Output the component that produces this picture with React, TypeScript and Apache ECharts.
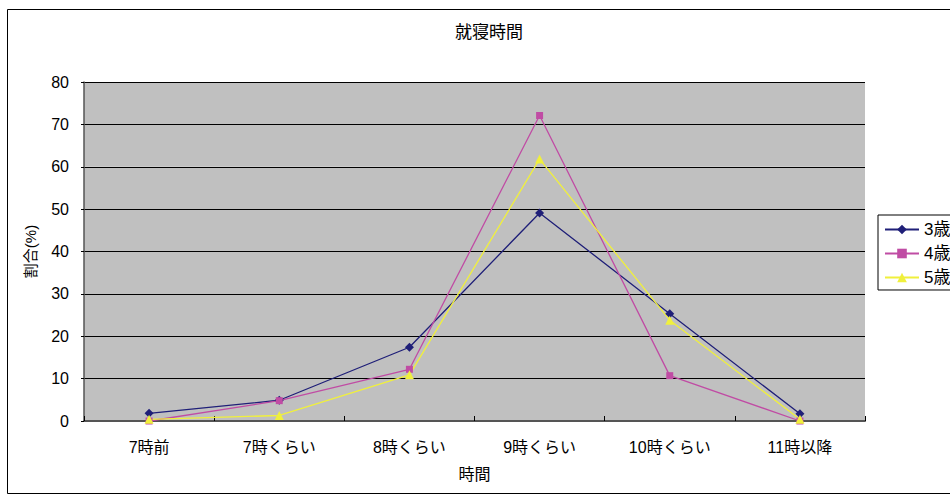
import React, { useEffect, useRef } from "react";
import * as echarts from "echarts";

const categories = ["7時前", "7時くらい", "8時くらい", "9時くらい", "10時くらい", "11時以降"];
const age3 = [1.8, 4.9, 17.4, 49.1, 25.3, 1.7];
const age4 = [0, 4.8, 12.2, 72.1, 10.7, 0];
const age5 = [0.4, 1.3, 10.9, 61.8, 23.8, 0.4];
const seriesNames = ["3歳", "4歳", "5歳"];

const FONT = "'Liberation Sans', 'Noto Sans CJK JP', sans-serif";

export default function App() {
  const ref = useRef<HTMLDivElement>(null);

  useEffect(() => {
    if (!ref.current) return;
    const chart = echarts.init(ref.current, undefined, { renderer: "svg" });
    const mk = (name: string, data: number[], color: string, symbol: string, size: number) => ({
      name,
      type: "line",
      data,
      symbol,
      symbolSize: size,
      lineStyle: { color, width: 1.3 },
      itemStyle: { color },
    });
    chart.setOption({
      animation: false,
      backgroundColor: "#ffffff",
      textStyle: { fontFamily: FONT },
      title: {
        text: "就寝時間",
        left: 484,
        textAlign: "center",
        top: 19,
        textStyle: { fontSize: 17, fontWeight: "normal", color: "#000", fontFamily: FONT },
      },
      graphic: [
        {
          type: "rect",
          shape: { x: 7.5, y: 9.5, width: 960, height: 484 },
          style: { fill: "none", stroke: "#000", lineWidth: 1 },
          silent: true,
        },
      ],
      legend: {
        orient: "vertical",
        left: 878,
        top: 215,
        data: seriesNames,
        itemWidth: 34,
        itemHeight: 12,
        itemGap: 7,
        padding: [6, 60, 4, 6],
        borderColor: "#000",
        borderWidth: 1,
        backgroundColor: "#fff",
        textStyle: { fontSize: 17, color: "#000", fontFamily: FONT },
      },
      grid: { left: 84, right: 85, top: 82, bottom: 75 },
      xAxis: {
        type: "category",
        data: categories,
        boundaryGap: true,
        name: "時間",
        nameLocation: "middle",
        nameGap: 45,
        nameTextStyle: { fontSize: 16, color: "#000", fontFamily: FONT },
        axisLine: { lineStyle: { color: "#555", width: 2 } },
        axisTick: { show: true, inside: true, length: 5, lineStyle: { color: "#000" } },
        axisLabel: { fontSize: 16, color: "#000", margin: 18, fontFamily: FONT },
      },
      yAxis: {
        type: "value",
        min: 0,
        max: 80,
        interval: 10,
        name: "割合(%)",
        nameLocation: "middle",
        nameGap: 46,
        nameRotate: 90,
        nameTextStyle: { fontSize: 15, color: "#000", fontFamily: FONT },
        axisLine: { show: true, lineStyle: { color: "#555", width: 1.5 } },
        axisTick: { show: true, length: 3, lineStyle: { color: "#000" } },
        axisLabel: { fontSize: 16, color: "#000", margin: 15, fontFamily: FONT },
        splitLine: { show: true, lineStyle: { color: "#000", width: 1.2 } },
        splitArea: { show: true, areaStyle: { color: ["#c0c0c0", "#c0c0c0"] } },
      },
      series: [
        mk(seriesNames[0], age3, "#1f1f78", "diamond", 9),
        mk(seriesNames[1], age4, "#c04ca4", "rect", 7),
        mk(seriesNames[2], age5, "#f0f03c", "triangle", 9),
      ],
    });
    return () => chart.dispose();
  }, []);

  return <div ref={ref} style={{ width: 950, height: 496, position: "absolute", left: 0, top: 0 }} />;
}
